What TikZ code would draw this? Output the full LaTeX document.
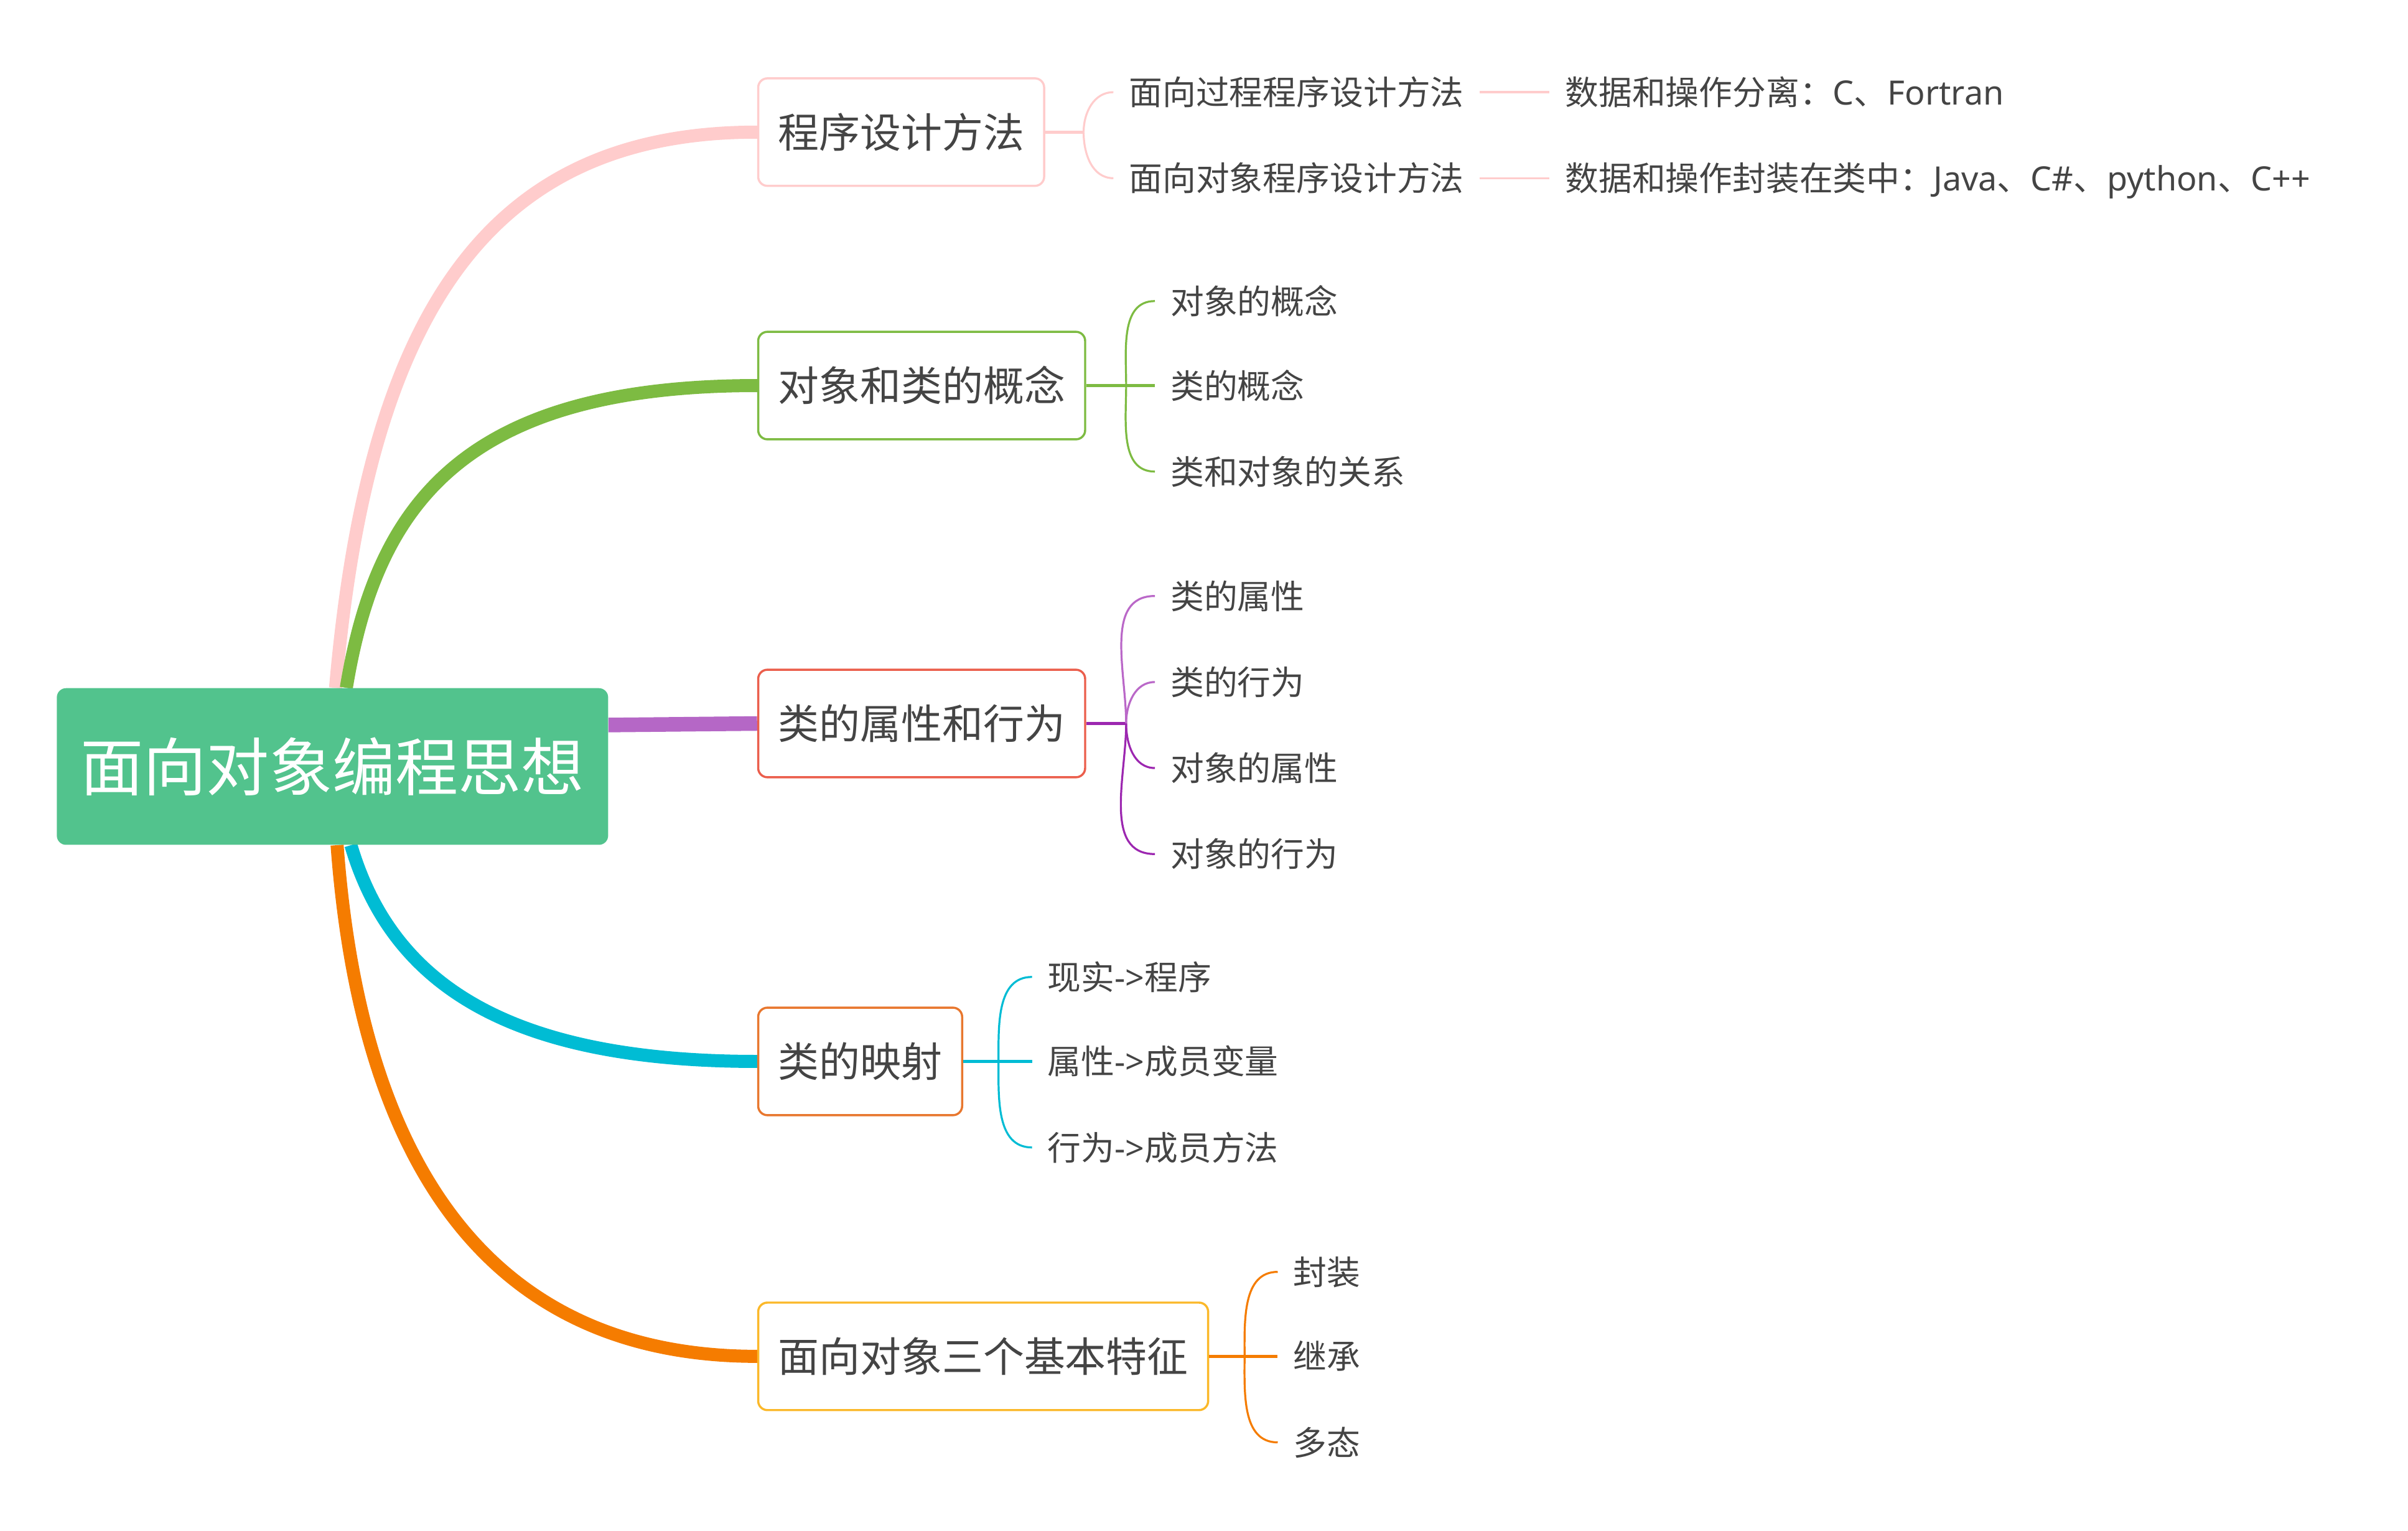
\documentclass[tikz,border=0pt]{standalone}
\usepackage{fontspec}
\setmainfont{Noto Sans CJK SC}
\newfontfamily\latinfont{Noto Sans}
\newcommand{\lat}[1]{{\latinfont #1}}
\usetikzlibrary{positioning,calc,backgrounds}

\definecolor{rootgreen}{HTML}{52C38D}
\definecolor{textgray}{HTML}{444444}
\definecolor{pinkline}{HTML}{FFCCCC}
\definecolor{greenline}{HTML}{7DBB42}
\definecolor{purpleline}{HTML}{B567C6}
\definecolor{purplelight}{HTML}{BA68C8}
\definecolor{purpledark}{HTML}{9C27B0}
\definecolor{redbox}{HTML}{EB5E4C}
\definecolor{cyanline}{HTML}{00BCD4}
\definecolor{orangebox}{HTML}{E8772E}
\definecolor{orangeline}{HTML}{F57C00}
\definecolor{yellowbox}{HTML}{FBB829}

\tikzset{
  topic/.style={draw, rounded corners=6pt, fill=white, line width=1.4pt,
    minimum height=70pt, inner xsep=13pt, anchor=west, text=textgray,
    text height=23.5pt, text depth=3.2pt,
    font=\fontsize{26.7}{30}\selectfont},
  leaf/.style={anchor=west, inner xsep=10pt, inner ysep=2pt, text=textgray,
    text height=19.2pt, text depth=2.6pt,
    font=\fontsize{21.8}{24}\selectfont},
  trunk/.style={line width=8.5pt},
  stem/.style={line width=2pt},
  twig/.style={line width=1.3pt},
}

\begin{document}
\begin{tikzpicture}[x=1pt,y=-1pt]
      \useasboundingbox (0,0) rectangle (1568,996.7);

      % centre
      \node[fill=rootgreen, rounded corners=6pt, minimum width=359pt, minimum height=102pt,
        inner sep=0pt, text=white, text height=36.1pt, text depth=4.9pt,
        font=\fontsize{41}{46}\selectfont] (root) at (216.5,499) {面向对象编程思想};

      % main topics
      \node[topic, draw=pinkline] (b1) at (493,86) {程序设计方法};
      \node[topic, draw=greenline] (b2) at (493,251) {对象和类的概念};
      \node[topic, draw=redbox] (b3) at (493,471) {类的属性和行为};
      \node[topic, draw=orangebox] (b4) at (493,691) {类的映射};
      \node[topic, draw=yellowbox] (b5) at (493,883) {面向对象三个基本特征};

      \begin{scope}[on background layer]
      \draw[trunk, pinkline] ($(root.north)+(2,0)$) .. controls (240,200) and (320,86) .. (b1.west);
      \draw[trunk, greenline] ($(root.north)+(9,0)$) .. controls (245,330) and (300,251) .. (b2.west);
      \draw[line width=9.5pt, purpleline] ($(root.east)+(0,-27)$) -- (b3.west);
      \draw[trunk, cyanline] ($(root.south)+(12,0)$) .. controls (255,640) and (330,691) .. (b4.west);
      \draw[trunk, orangeline] ($(root.south)+(3,0)$) .. controls (235,760) and (320,883) .. (b5.west);
      \end{scope}

      % programming methods
      \coordinate (j1) at ($(b1.east)+(25,0)$);
      \node[leaf] (p1) at (725,60) {面向过程程序设计方法};
      \node[leaf] (p2) at (725,116) {面向对象程序设计方法};
      \node[leaf] (q1) at (1009,60) {数据和操作分离：\lat{C}、\lat{Fortran}};
      \node[leaf] (q2) at (1009,116) {数据和操作封装在类中：\lat{Java}、\lat{C\#}、\lat{python}、\lat{C++}};
      \draw[stem, pinkline] (b1.east) -- (j1);
      \draw[twig, pinkline] (j1) to[out=90,in=180] (p1.west);
      \draw[twig, pinkline] (j1) to[out=-90,in=180] (p2.west);
      \draw[twig, pinkline] (p1.east) -- (q1.west);
      \draw[twig, pinkline] (p2.east) -- (q2.west);

      % objects and classes
      \coordinate (j2) at ($(b2.east)+(26,0)$);
      \node[leaf] (c1) at (752,196) {对象的概念};
      \node[leaf] (c2) at (752,251) {类的概念};
      \node[leaf] (c3) at (752,307) {类和对象的关系};
      \draw[stem, greenline] (b2.east) -- (c2.west);
      \draw[twig, greenline] (j2) to[out=90,in=180] (c1.west);
      \draw[twig, greenline] (j2) to[out=-90,in=180] (c3.west);

      % attributes and behaviour
      \coordinate (j3) at ($(b3.east)+(26,0)$);
      \node[leaf] (a1) at (752,388) {类的属性};
      \node[leaf] (a2) at (752,444) {类的行为};
      \node[leaf] (a3) at (752,500) {对象的属性};
      \node[leaf] (a4) at (752,556) {对象的行为};
      \draw[stem, purpledark] (b3.east) -- (j3);
      \draw[twig, purplelight] (j3) to[out=90,in=180] (a1.west);
      \draw[twig, purplelight] (j3) to[out=90,in=180] (a2.west);
      \draw[twig, purpledark] (j3) to[out=-90,in=180] (a3.west);
      \draw[twig, purpledark] (j3) to[out=-90,in=180] (a4.west);

      % mapping
      \coordinate (j4) at ($(b4.east)+(23,0)$);
      \node[leaf] (m1) at (672,636) {现实\lat{->}程序};
      \node[leaf] (m2) at (672,691) {属性\lat{->}成员变量};
      \node[leaf] (m3) at (672,747) {行为\lat{->}成员方法};
      \draw[stem, cyanline] (b4.east) -- (m2.west);
      \draw[twig, cyanline] (j4) to[out=90,in=180] (m1.west);
      \draw[twig, cyanline] (j4) to[out=-90,in=180] (m3.west);

      % three features
      \coordinate (j5) at ($(b5.east)+(23,0)$);
      \node[leaf] (f1) at (832,828) {封装};
      \node[leaf] (f2) at (832,883) {继承};
      \node[leaf] (f3) at (832,939) {多态};
      \draw[stem, orangeline] (b5.east) -- (f2.west);
      \draw[twig, orangeline] (j5) to[out=90,in=180] (f1.west);
      \draw[twig, orangeline] (j5) to[out=-90,in=180] (f3.west);

    \end{tikzpicture}
\end{document}
